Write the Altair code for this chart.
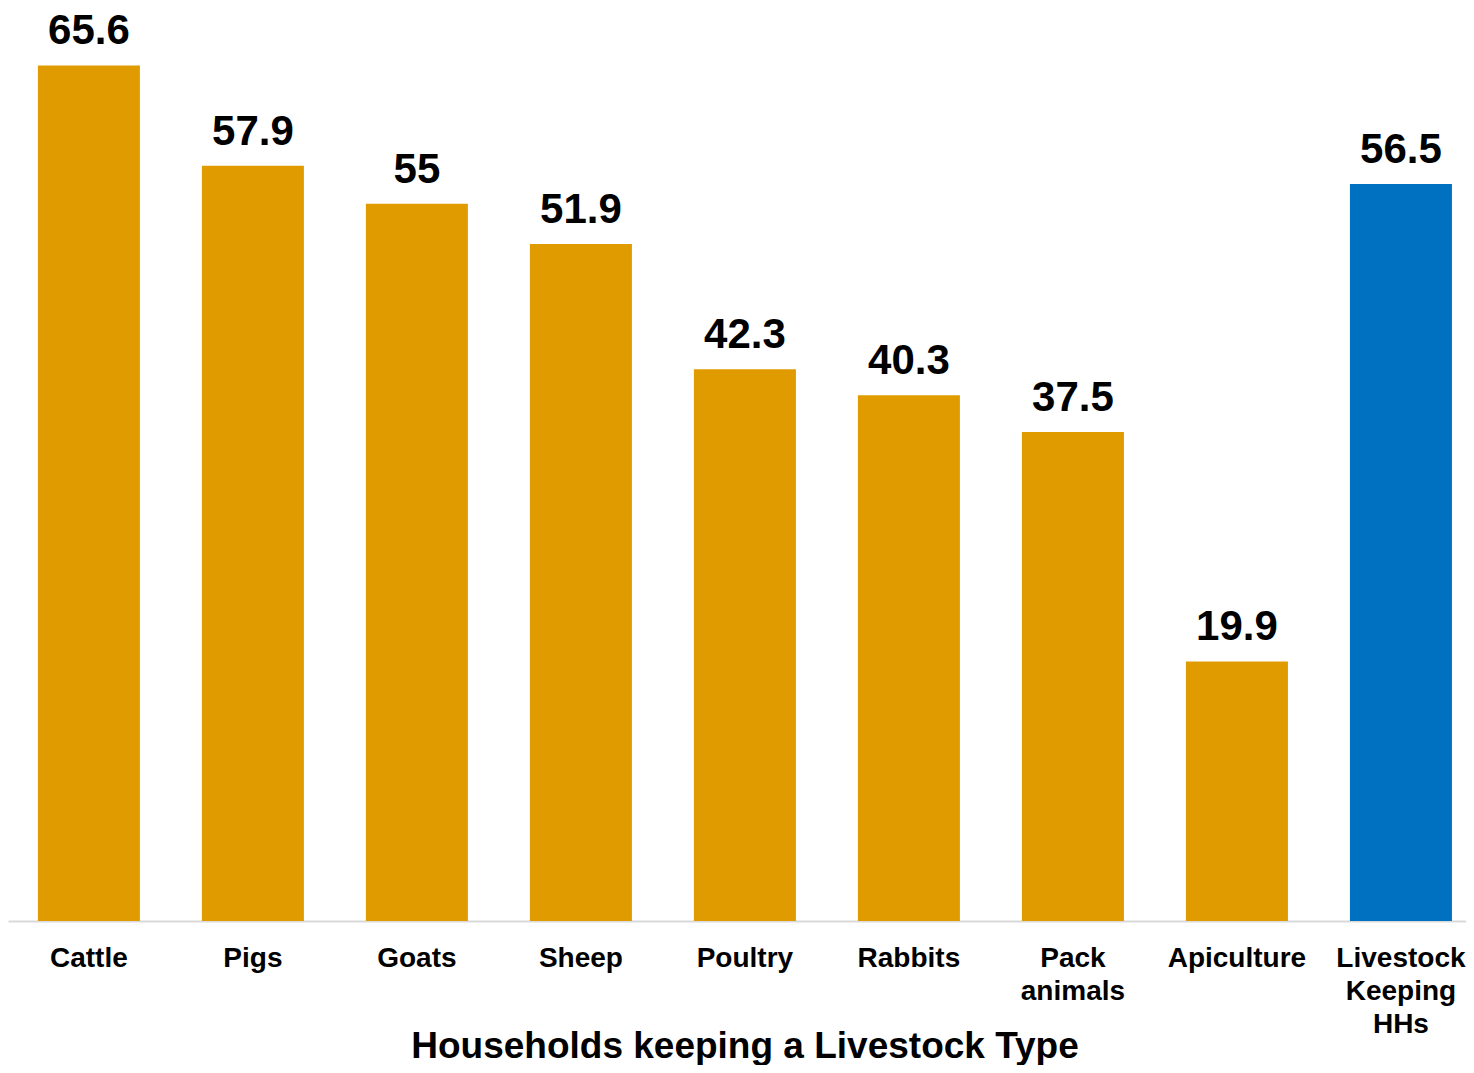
import altair as alt
import pandas as pd

categories = ["Cattle", "Pigs", "Goats", "Sheep", "Poultry", "Rabbits",
              "Pack|animals", "Apiculture", "Livestock|Keeping|HHs"]
values = [65.6, 57.9, 55, 51.9, 42.3, 40.3, 37.5, 19.9, 56.5]
groups = ["type"] * 8 + ["total"]

df = pd.DataFrame({"cat": categories, "val": values, "grp": groups})
df["label"] = df["val"].map(lambda v: f"{v:g}")

FONT = "Liberation Sans"

x = alt.X("cat:N", sort=categories,
          scale=alt.Scale(paddingInner=0.378, paddingOuter=0.134, align=0.68),
          axis=alt.Axis(title="Households keeping a Livestock Type",
                        labelExpr="split(datum.value, '|')",
                        labelAngle=0, labelFont=FONT, labelFontSize=28,
                        labelFontWeight="bold", labelColor="black",
                        labelPadding=23, labelLineHeight=33,
                        ticks=False, domainColor="#D9D9D9", domainWidth=2,
                        titleFont=FONT, titleFontSize=37, titleFontWeight="bold",
                        titleColor="black", titleX=736.5, titleY=136,
                        titleAlign="center", titleBaseline="alphabetic"))
y = alt.Y("val:Q", scale=alt.Scale(domain=[0, 70], nice=False), axis=None)

bars = alt.Chart(df).mark_bar().encode(
    x=x, y=y,
    color=alt.Color("grp:N", scale=alt.Scale(domain=["type", "total"],
                                             range=["#E09B00", "#0070C0"]),
                    legend=None),
)
labels = alt.Chart(df).mark_text(font=FONT, fontSize=42, fontWeight="bold",
                                 color="black", baseline="alphabetic", dy=-21).encode(
    x=alt.X("cat:N", sort=categories), y="val:Q", text="label:N")

chart = (bars + labels).properties(
    width=1458, height=913,
    autosize=alt.AutoSizeParams(type="none"),
    padding={"left": 0, "top": 0, "right": 0, "bottom": 144},
).configure_view(stroke=None)
chart.save("out.html", embed_options={"renderer": "svg", "actions": False})
